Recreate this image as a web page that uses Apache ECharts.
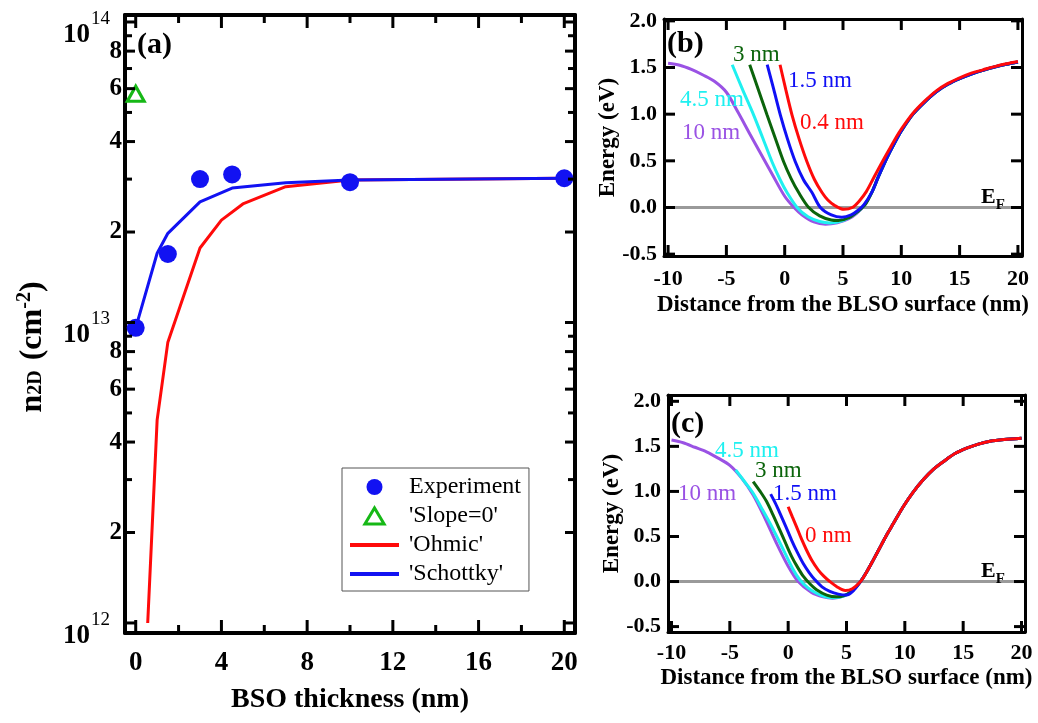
<!DOCTYPE html>
<html><head><meta charset="utf-8">
<script src="https://cdn.jsdelivr.net/npm/echarts@6/dist/echarts.min.js"></script>
<style>html,body{margin:0;padding:0;background:#fff}#c{width:1038px;height:723px}</style>
</head><body><div id="c"></div>
<script>
const FONT = '"Liberation Serif", "Times New Roman", serif';

// ---------- Panel (a) ----------
const aXTicksMajor = [0, 4, 8, 12, 16, 20];
const aXTicksMinor = [2, 6, 10, 14, 18];
const aYPowers = [1e12, 1e13, 1e14];
const aYLabelled = [2e12, 4e12, 6e12, 8e12, 2e13, 4e13, 6e13, 8e13];
const aYTicksMajor = [1e12, 2e12, 4e12, 6e12, 8e12, 1e13, 2e13, 4e13, 6e13, 8e13, 1e14];
const aYTicksMinor = [3e12, 5e12, 7e12, 9e12, 3e13, 5e13, 7e13, 9e13];
const expX = [0, 1.5, 3, 4.5, 10, 20];
const expY = [9.6e12, 1.69e13, 3.0e13, 3.11e13, 2.93e13, 3.02e13];
const slopeX = [0];
const slopeY = [5.77e13];
const ohmicX = [0.56, 1.0, 1.5, 3, 4, 5, 7, 10, 20];
const ohmicY = [1.0e12, 4.74e12, 8.6e12, 1.77e13, 2.19e13, 2.48e13, 2.83e13, 2.98e13, 3.02e13];
const schottkyX = [0, 1, 1.5, 3, 4.5, 7, 10, 20];
const schottkyY = [9.6e12, 1.7e13, 1.98e13, 2.52e13, 2.8e13, 2.92e13, 2.98e13, 3.02e13];

// ---------- Panels (b),(c) ----------
const eTicks = [-0.5, 0, 0.5, 1, 1.5, 2];
const dTicks = [-10, -5, 0, 5, 10, 15, 20];
const efLineB = [[-10.35, 0], [20.35, 0]];
const efLineC = [[-10.3, 0], [20.3, 0]];

const b10 = [[-10,1.545],[-9,1.525],[-8,1.48],[-7,1.42],[-6,1.35],[-5,1.235],[-4,1.02],[-3,0.79],[-2,0.565],[-1,0.34],[0,0.12],[0.8,0.0],[1.5,-0.08],[2.5,-0.155],[3.5,-0.18],[4.5,-0.165],[5.5,-0.12],[6.2,-0.06],[6.8,0.02],[7.5,0.17],[8,0.32],[8.5,0.46],[9,0.59],[9.5,0.71],[10,0.82],[11,1.0],[12,1.13],[13,1.24],[14,1.32],[15,1.38],[16,1.43],[17,1.47],[18,1.505],[19,1.535],[20,1.56]];
const b45 = [[-4.5,1.53],[-3.6,1.26],[-2.66,0.99],[-1.9,0.75],[-1.09,0.49],[-0.4,0.3],[0.2,0.16],[1.06,0.0],[2,-0.1],[3,-0.15],[3.9,-0.165],[5,-0.14],[6,-0.07],[6.8,0.02],[7.5,0.17],[8,0.32],[8.5,0.46],[9,0.59],[9.5,0.71],[10,0.82],[11,1.0],[12,1.13],[13,1.24],[14,1.32],[15,1.38],[16,1.43],[17,1.47],[18,1.505],[19,1.535],[20,1.56]];
const b3 = [[-3,1.53],[-2.25,1.26],[-1.51,0.99],[-0.8,0.74],[-0.09,0.49],[0.55,0.31],[1.2,0.16],[2.06,0.0],[3,-0.09],[4,-0.135],[4.6,-0.14],[5.5,-0.11],[6.3,-0.04],[6.9,0.03],[7.5,0.17],[8,0.32],[8.5,0.46],[9,0.59],[9.5,0.71],[10,0.82],[11,1.0],[12,1.13],[13,1.24],[14,1.32],[15,1.38],[16,1.43],[17,1.47],[18,1.505],[19,1.535],[20,1.56]];
const b15 = [[-1.5,1.53],[-0.95,1.27],[-0.37,0.99],[0.25,0.73],[0.91,0.49],[1.6,0.3],[2.34,0.16],[3.06,0.0],[4,-0.08],[4.9,-0.105],[5.7,-0.08],[6.3,-0.03],[6.8,0.03],[7.5,0.17],[8,0.32],[8.5,0.46],[9,0.59],[9.5,0.71],[10,0.82],[11,1.0],[12,1.13],[13,1.24],[14,1.32],[15,1.38],[16,1.43],[17,1.47],[18,1.505],[19,1.535],[20,1.56]];
const b04 = [[-0.4,1.53],[0.1,1.26],[0.63,0.99],[1.25,0.73],[1.91,0.49],[2.55,0.3],[3.2,0.16],[3.7,0.08],[4.3,0.02],[5.06,-0.02],[5.8,0.0],[6.4,0.07],[7,0.17],[7.6,0.31],[8.2,0.45],[9,0.63],[9.5,0.74],[10,0.84],[11,1.01],[12,1.14],[13,1.25],[14,1.33],[15,1.39],[16,1.44],[17,1.475],[18,1.51],[19,1.54],[20,1.565]];

const c10 = [[-10,1.57],[-9,1.54],[-8,1.49],[-7,1.44],[-6,1.37],[-5,1.29],[-4,1.15],[-3,0.96],[-2,0.705],[-1,0.425],[0,0.17],[0.86,0.0],[2,-0.12],[3,-0.17],[3.8,-0.185],[4.8,-0.16],[5.5,-0.1],[6.2,0.0],[6.7,0.1],[7.3,0.24],[8,0.41],[8.5,0.53],[9,0.64],[9.86,0.83],[10.7,0.99],[11.57,1.13],[12.4,1.24],[13.3,1.33],[14.3,1.42],[15.3,1.48],[16.3,1.525],[17.3,1.556],[18.5,1.575],[20,1.59]];
const c45 = [[-4.5,1.24],[-3.75,1.11],[-3,0.98],[-2.3,0.82],[-1.57,0.65],[-0.9,0.48],[-0.29,0.32],[0.4,0.14],[1.0,0.02],[1.7,-0.07],[2.43,-0.13],[3.2,-0.17],[3.9,-0.18],[4.8,-0.16],[5.5,-0.1],[6.2,0.0],[6.7,0.1],[7.3,0.24],[8,0.41],[8.5,0.53],[9,0.64],[9.86,0.83],[10.7,0.99],[11.57,1.13],[12.4,1.24],[13.3,1.33],[14.3,1.42],[15.3,1.48],[16.3,1.525],[17.3,1.556],[18.5,1.575],[20,1.59]];
const c3 = [[-3,1.11],[-2.4,1.0],[-1.86,0.89],[-1.3,0.74],[-0.71,0.57],[-0.2,0.42],[0.29,0.28],[0.8,0.16],[1.29,0.06],[1.9,-0.03],[2.43,-0.09],[3.3,-0.15],[4.14,-0.17],[4.9,-0.15],[5.6,-0.09],[6.2,0.0],[6.7,0.1],[7.3,0.24],[8,0.41],[8.5,0.53],[9,0.64],[9.86,0.83],[10.7,0.99],[11.57,1.13],[12.4,1.24],[13.3,1.33],[14.3,1.42],[15.3,1.48],[16.3,1.525],[17.3,1.556],[18.5,1.575],[20,1.59]];
const c15 = [[-1.5,0.97],[-1.1,0.87],[-0.71,0.76],[-0.2,0.61],[0.29,0.46],[0.8,0.32],[1.29,0.2],[1.8,0.1],[2.29,0.02],[2.9,-0.06],[3.57,-0.11],[4.3,-0.14],[5.0,-0.15],[5.6,-0.1],[6.2,0.0],[6.7,0.1],[7.3,0.24],[8,0.41],[8.5,0.53],[9,0.64],[9.86,0.83],[10.7,0.99],[11.57,1.13],[12.4,1.24],[13.3,1.33],[14.3,1.42],[15.3,1.48],[16.3,1.525],[17.3,1.556],[18.5,1.575],[20,1.59]];
const c0 = [[0,0.83],[0.35,0.72],[0.71,0.61],[1.15,0.47],[1.57,0.35],[2.05,0.23],[2.57,0.13],[3.05,0.06],[3.57,0.0],[4.2,-0.06],[4.9,-0.1],[5.5,-0.08],[6.2,0.0],[6.7,0.1],[7.3,0.24],[8,0.41],[8.5,0.53],[9,0.64],[9.86,0.83],[10.7,0.99],[11.57,1.13],[12.4,1.24],[13.3,1.33],[14.3,1.42],[15.3,1.48],[16.3,1.525],[17.3,1.556],[18.5,1.575],[20,1.59]];

const COL = {purple:'#9a52e4', cyan:'#1ff0f0', green:'#0b640b', blue:'#1010f5', red:'#ff0a0a', aBlue:'#1212f2', aGreen:'#16b816', gray:'#9a9a9a'};

const zip = (xs, ys) => xs.map((x, i) => [x, ys[i]]);

// ---------- axes ----------
const txt = {color:'#000', fontFamily:FONT, fontWeight:'bold'};
function line(w) { return {show:true, onZero:false, lineStyle:{color:'#000', width:w}}; }
const noTick = {show:false};
const noLabel = {show:false};
const noSplit = {show:false};

const aX = {min:-0.5, max:20.5};
const aY = {type:'log', logBase:10, min:9.26e11, max:1.055e14};
const bX = {min:-10.35, max:20.35};
const bY = {min:-0.52, max:2.02};
const cX = {min:-10.3, max:20.3};
const cY = {min:-0.56, max:2.07};

const xAxis = [
  Object.assign({gridIndex:0, type:'value', position:'bottom', axisLine:line(4), axisTick:noTick,
    axisLabel:Object.assign({customValues:aXTicksMajor, margin:17, fontSize:27}, txt), splitLine:noSplit,
    name:'BSO thickness (nm)', nameLocation:'middle', nameGap:53, nameMoveOverlap:false,
    nameTextStyle:Object.assign({fontSize:28}, txt)}, aX),
  Object.assign({gridIndex:0, type:'value', position:'top', axisLine:line(4), axisTick:noTick, axisLabel:noLabel, splitLine:noSplit}, aX),
  Object.assign({gridIndex:1, type:'value', position:'bottom', axisLine:line(3), axisTick:noTick,
    axisLabel:Object.assign({customValues:dTicks, margin:12, fontSize:22}, txt), splitLine:noSplit,
    name:'Distance from the BLSO surface (nm)', nameLocation:'middle', nameGap:38, nameMoveOverlap:false,
    nameTextStyle:Object.assign({fontSize:23}, txt)}, bX),
  Object.assign({gridIndex:1, type:'value', position:'top', axisLine:line(3), axisTick:noTick, axisLabel:noLabel, splitLine:noSplit}, bX),
  Object.assign({gridIndex:2, type:'value', position:'bottom', axisLine:line(3), axisTick:noTick,
    axisLabel:Object.assign({customValues:dTicks, margin:10, fontSize:22}, txt), splitLine:noSplit,
    name:'Distance from the BLSO surface (nm)', nameLocation:'middle', nameGap:35, nameMoveOverlap:false,
    nameTextStyle:Object.assign({fontSize:23}, txt)}, cX),
  Object.assign({gridIndex:2, type:'value', position:'top', axisLine:line(3), axisTick:noTick, axisLabel:noLabel, splitLine:noSplit}, cX)
];

const powerLabel = v => '{big|10}{sup|' + Math.round(Math.log10(v)) + '}';
const mantissaLabel = v => String(Math.round(v / Math.pow(10, Math.floor(Math.log10(v) + 1e-9))));
const fix1 = v => (Math.abs(v) < 1e-9 ? 0 : v).toFixed(1);

const yAxis = [
  Object.assign({gridIndex:0, position:'left', axisLine:line(4), axisTick:noTick,
    axisLabel:Object.assign({customValues:aYLabelled, margin:3, fontSize:25, formatter:mantissaLabel}, txt), splitLine:noSplit,
    name:'{n|n}{sub|2D}{n| (cm}{sup|-2}{n|)}', nameLocation:'middle', nameGap:68, nameMoveOverlap:false,
    nameTextStyle:{padding:[0,46,0,0], rich:{
      n:{fontSize:32, fontWeight:'bold', fontFamily:FONT, color:'#000', padding:[0,0,7,0]},
      sub:{fontSize:20, fontWeight:'bold', fontFamily:FONT, color:'#000', padding:[0,2,0,0]},
      sup:{fontSize:20, fontWeight:'bold', fontFamily:FONT, color:'#000', padding:[0,0,22,0]}}}}, aY),
  Object.assign({gridIndex:0, position:'left', axisLine:{show:false, onZero:false}, axisTick:noTick,
    axisLabel:{customValues:aYPowers, margin:3, formatter:powerLabel, padding:[26,0,0,0], rich:{
      big:{fontSize:27, fontWeight:'bold', fontFamily:FONT, color:'#000', verticalAlign:'bottom', lineHeight:27},
      sup:{fontSize:19, fontFamily:FONT, color:'#000', verticalAlign:'bottom', lineHeight:19, padding:[0,12,20,1]}}},
    splitLine:noSplit}, aY),
  Object.assign({gridIndex:0, position:'right', axisLine:line(4), axisTick:noTick, axisLabel:noLabel, splitLine:noSplit}, aY),
  Object.assign({gridIndex:1, type:'value', position:'left', axisLine:line(3), axisTick:noTick,
    axisLabel:Object.assign({customValues:eTicks, margin:7, fontSize:22, formatter:fix1}, txt), splitLine:noSplit,
    name:'Energy (eV)', nameLocation:'middle', nameGap:44, nameMoveOverlap:false, nameTextStyle:Object.assign({fontSize:23}, txt)}, bY),
  Object.assign({gridIndex:1, type:'value', position:'right', axisLine:line(3), axisTick:noTick, axisLabel:noLabel, splitLine:noSplit}, bY),
  Object.assign({gridIndex:2, type:'value', position:'left', axisLine:line(3), axisTick:noTick,
    axisLabel:Object.assign({customValues:eTicks, margin:7, fontSize:22, formatter:fix1}, txt), splitLine:noSplit,
    name:'Energy (eV)', nameLocation:'middle', nameGap:44, nameMoveOverlap:false, nameTextStyle:Object.assign({fontSize:23}, txt)}, cY),
  Object.assign({gridIndex:2, type:'value', position:'right', axisLine:line(3), axisTick:noTick, axisLabel:noLabel, splitLine:noSplit}, cY)
];
// y axis indices: a = 0 (also 1, 2), b = 3 (4), c = 5 (6)

function curve(name, data, color, xi, yi) {
  return {name:name, type:'line', xAxisIndex:xi, yAxisIndex:yi, data:data, symbol:'none', smooth:0.3,
    lineStyle:{color:color, width:3}, itemStyle:{color:color}, z:3, silent:true};
}

// inward tick marks drawn as thin bar symbols sitting on the frame, placed by the axes' scales
function ticks(xi, yi, X, Y, side, vals, len) {
  const w = 3;
  let data, size, offset;
  if (side === 'bottom') { data = vals.map(v => [v, Y.min]); size = [w, len]; offset = [0, -len / 2]; }
  else if (side === 'top') { data = vals.map(v => [v, Y.max]); size = [w, len]; offset = [0, len / 2]; }
  else if (side === 'left') { data = vals.map(v => [X.min, v]); size = [len, w]; offset = [len / 2, 0]; }
  else { data = vals.map(v => [X.max, v]); size = [len, w]; offset = [-len / 2, 0]; }
  return {name:'tick-' + side + '-' + xi + '-' + len, type:'scatter', xAxisIndex:xi, yAxisIndex:yi, data:data,
    symbol:'rect', symbolSize:size, symbolOffset:offset, clip:false, silent:true, z:10,
    itemStyle:{color:'#000', opacity:1}, emphasis:{disabled:true}};
}

const series = [
  {name:"'Ohmic'", type:'line', xAxisIndex:0, yAxisIndex:0, data:zip(ohmicX, ohmicY), symbol:'none',
    lineStyle:{color:COL.red, width:3}, itemStyle:{color:COL.red}, z:3},
  {name:"'Schottky'", type:'line', xAxisIndex:0, yAxisIndex:0, data:zip(schottkyX, schottkyY), symbol:'none',
    lineStyle:{color:COL.aBlue, width:3}, itemStyle:{color:COL.aBlue}, z:4},
  {name:'Experiment', type:'scatter', xAxisIndex:0, yAxisIndex:0, data:zip(expX, expY), symbol:'circle', symbolSize:18,
    itemStyle:{color:COL.aBlue, opacity:1}, z:5},
  {name:"'Slope=0'", type:'scatter', xAxisIndex:0, yAxisIndex:0, data:zip(slopeX, slopeY), symbol:'triangle', symbolSize:[17,15],
    itemStyle:{color:'rgba(255,255,255,0)', borderColor:COL.aGreen, borderWidth:3, opacity:1}, z:5},
  {name:'EF (b)', type:'line', xAxisIndex:2, yAxisIndex:3, data:efLineB, symbol:'none', lineStyle:{color:COL.gray, width:3}, z:2, silent:true},
  curve('10 nm (b)', b10, COL.purple, 2, 3),
  curve('4.5 nm (b)', b45, COL.cyan, 2, 3),
  curve('3 nm (b)', b3, COL.green, 2, 3),
  curve('1.5 nm (b)', b15, COL.blue, 2, 3),
  curve('0.4 nm (b)', b04, COL.red, 2, 3),
  {name:'EF (c)', type:'line', xAxisIndex:4, yAxisIndex:5, data:efLineC, symbol:'none', lineStyle:{color:COL.gray, width:3}, z:2, silent:true},
  curve('10 nm (c)', c10, COL.purple, 4, 5),
  curve('4.5 nm (c)', c45, COL.cyan, 4, 5),
  curve('3 nm (c)', c3, COL.green, 4, 5),
  curve('1.5 nm (c)', c15, COL.blue, 4, 5),
  curve('0 nm (c)', c0, COL.red, 4, 5),
  ticks(0, 0, aX, aY, 'bottom', aXTicksMajor, 13),
  ticks(0, 0, aX, aY, 'bottom', aXTicksMinor, 8),
  ticks(0, 0, aX, aY, 'top', aXTicksMajor, 13),
  ticks(0, 0, aX, aY, 'top', aXTicksMinor, 8),
  ticks(0, 0, aX, aY, 'left', aYTicksMajor, 10),
  ticks(0, 0, aX, aY, 'left', aYTicksMinor, 7),
  ticks(0, 0, aX, aY, 'right', aYTicksMajor, 10),
  ticks(0, 0, aX, aY, 'right', aYTicksMinor, 7),
  ticks(2, 3, bX, bY, 'bottom', dTicks, 11),
  ticks(2, 3, bX, bY, 'top', dTicks, 11),
  ticks(2, 3, bX, bY, 'left', eTicks, 11),
  ticks(2, 3, bX, bY, 'right', eTicks, 11),
  ticks(4, 5, cX, cY, 'bottom', dTicks, 11),
  ticks(4, 5, cX, cY, 'top', dTicks, 11),
  ticks(4, 5, cX, cY, 'left', eTicks, 11),
  ticks(4, 5, cX, cY, 'right', eTicks, 11)
];

function label(text, x, y, color, size, bold) {
  return {type:'text', x:x, y:y, z:50, silent:true,
    style:{text:text, fill:color, fontSize:size, fontFamily:FONT, fontWeight:bold ? 'bold' : 'normal', verticalAlign:'middle', align:'left'}};
}
function efLabel(x, y) {
  return {type:'text', x:x, y:y, z:50, silent:true, style:{text:'{e|E}{f|F}', verticalAlign:'middle', align:'left',
    rich:{e:{fontSize:22, fontWeight:'bold', fontFamily:FONT, fill:'#000', color:'#000', verticalAlign:'top', lineHeight:22},
          f:{fontSize:15, fontWeight:'bold', fontFamily:FONT, fill:'#000', color:'#000', verticalAlign:'top', lineHeight:15, padding:[12,0,0,0]}}}};
}

const labels = [
  label('(a)', 137, 45, '#000', 30, true),
  label('(b)', 667, 44, '#000', 30, true),
  label('(c)', 671, 424, '#000', 30, true),
  label('3 nm', 733, 55, COL.green, 23, false),
  label('1.5 nm', 788, 81, COL.blue, 23, false),
  label('4.5 nm', 680, 100, COL.cyan, 23, false),
  label('0.4 nm', 800, 123, COL.red, 23, false),
  label('10 nm', 682, 133, COL.purple, 23, false),
  efLabel(981, 197),
  label('4.5 nm', 715, 451, COL.cyan, 23, false),
  label('3 nm', 755, 471, COL.green, 23, false),
  label('10 nm', 678, 494, COL.purple, 23, false),
  label('1.5 nm', 773, 494, COL.blue, 23, false),
  label('0 nm', 805, 536, COL.red, 23, false),
  efLabel(981, 571)
];

const hiddenSym = {color:'rgba(0,0,0,0)', borderWidth:0, opacity:0};
const gridBase = {outerBoundsMode:'none', containLabel:false};

const chart = echarts.init(document.getElementById('c'), null, {renderer:'canvas'});
chart.setOption({
  animation:false,
  backgroundColor:'#fff',
  textStyle:{fontFamily:FONT},
  grid:[
    Object.assign({left:125, top:15, width:450, height:618}, gridBase),
    Object.assign({left:664, top:19, width:358, height:237}, gridBase),
    Object.assign({left:668, top:395, width:357, height:237}, gridBase)
  ],
  legend:{
    data:[
      {name:'Experiment', icon:'circle', itemStyle:{color:COL.aBlue, opacity:1}},
      {name:"'Slope=0'", icon:'path://M0,10 L6,0 L12,10 Z', itemStyle:{color:'rgba(255,255,255,0)', borderColor:COL.aGreen, borderWidth:3, opacity:1}},
      {name:"'Ohmic'", itemStyle:hiddenSym, lineStyle:{color:COL.red, width:4}},
      {name:"'Schottky'", itemStyle:hiddenSym, lineStyle:{color:COL.aBlue, width:4}}
    ],
    symbolKeepAspect:true,
    left:342, top:468, orient:'vertical', itemWidth:49, itemHeight:16, itemGap:5,
    padding:[7,8,5,6], borderColor:'#555', borderWidth:1, backgroundColor:'#fff',
    textStyle:{fontSize:24, fontFamily:FONT, color:'#000', padding:[0,0,0,5]},
    selectedMode:false
  },
  xAxis:xAxis,
  yAxis:yAxis,
  series:series,
  graphic:labels
});
</script></body></html>
